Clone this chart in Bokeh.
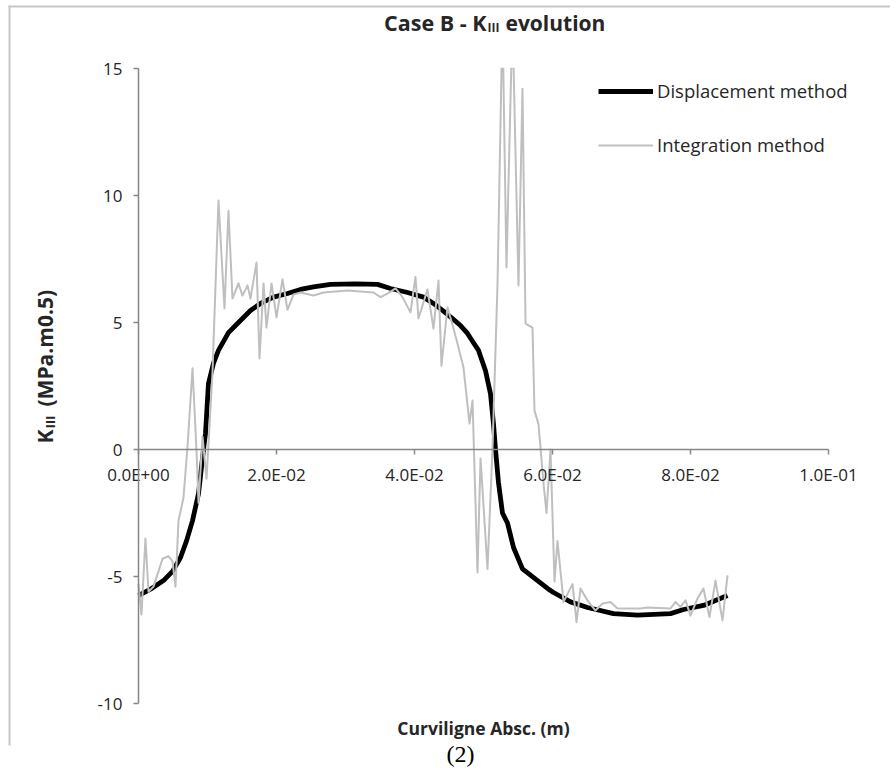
import math
from bokeh.plotting import figure
from bokeh.models import (Range1d, FixedTicker, CustomJSTickFormatter, Label, Legend,
                          LegendItem, PolyAnnotation, BoxAnnotation)
from bokeh.embed import file_html
from bokeh.resources import INLINE

# ---------------- data ----------------
x_disp = [0.0, 0.00174, 0.00362, 0.00493, 0.00609, 0.00696, 0.00783, 0.0087, 0.00942,
          0.00971, 0.01014, 0.01087, 0.01159, 0.01304, 0.01435, 0.01623, 0.01768, 0.01957,
          0.02159, 0.02348, 0.02536, 0.02783, 0.03145, 0.03464, 0.03652, 0.03899, 0.0413,
          0.04275, 0.0442, 0.04551, 0.04667, 0.04768, 0.04855, 0.04928, 0.05029, 0.05101,
          0.05145, 0.05174, 0.05217, 0.05275, 0.05348, 0.05435, 0.05565, 0.05783, 0.05928,
          0.06014, 0.06261, 0.06507, 0.06884, 0.07232, 0.0771, 0.07899, 0.08188, 0.08536]
k_disp = [-5.75, -5.5, -5.16, -4.8, -4.25, -3.6, -2.8, -1.73, 0.0,
          0.63, 2.6, 3.4, 3.9, 4.6, 4.96, 5.47, 5.75, 6.0,
          6.14, 6.3, 6.4, 6.5, 6.52, 6.5, 6.34, 6.18, 6.0,
          5.75, 5.45, 5.15, 4.88, 4.57, 4.2, 3.9, 3.1, 2.2,
          1.0, 0.0, -1.3, -2.5, -2.9, -3.86, -4.7, -5.16, -5.47,
          -5.63, -6.0, -6.22, -6.46, -6.52, -6.46, -6.3, -6.14, -5.75]

x_int = [0.0, 0.00043, 0.00101, 0.00145, 0.00217, 0.0029, 0.00348, 0.00435, 0.00493,
         0.00536, 0.0058, 0.00652, 0.0071, 0.00783, 0.0084, 0.0087, 0.00928, 0.00986,
         0.01072, 0.01159, 0.01246, 0.01304, 0.01362, 0.01449, 0.01507, 0.0158, 0.01623,
         0.0171, 0.01754, 0.01812, 0.01855, 0.01928, 0.02, 0.02087, 0.02159, 0.02246,
         0.02348, 0.02536, 0.02681, 0.03029, 0.03406, 0.03507, 0.03609, 0.03725, 0.03826,
         0.03942, 0.04014, 0.04058, 0.04188, 0.04275, 0.04348, 0.04391, 0.04478, 0.04551,
         0.04623, 0.0471, 0.04797, 0.04841, 0.04913, 0.04957, 0.05058, 0.0513, 0.05203,
         0.05275, 0.05333, 0.0542, 0.05507, 0.05565, 0.05609, 0.0571, 0.05739, 0.05797,
         0.0587, 0.05913, 0.05971, 0.06029, 0.06072, 0.0616, 0.0629, 0.06348, 0.06406,
         0.06507, 0.06623, 0.06725, 0.0684, 0.06942, 0.07275, 0.07377, 0.0771, 0.07783,
         0.07855, 0.07928, 0.08, 0.08101, 0.08188, 0.08275, 0.08362, 0.08464, 0.08536]
k_int = [-5.3, -6.5, -3.5, -5.6, -5.4, -4.8, -4.3, -4.2, -4.4,
         -5.4, -2.8, -1.9, 0.1, 3.2, 0.0, -2.1, 0.5, -1.15,
         3.0, 9.8, 5.55, 9.4, 5.94, 6.54, 6.06, 6.46, 5.94,
         7.36, 3.58, 6.54, 4.8, 6.54, 5.2, 6.7, 5.5, 6.1,
         6.18, 6.06, 6.18, 6.26, 6.18, 6.0, 6.14, 6.34, 6.0,
         5.4, 6.8, 5.16, 6.3, 4.76, 6.65, 3.3, 5.6, 4.9,
         4.17, 3.23, 1.02, 1.93, -4.84, -0.35, -4.7, 0.0, 6.5,
         17.0, 7.17, 17.0, 6.46, 14.2, 4.96, 4.8, 1.53, 1.0,
         -1.34, -2.5, 0.0, -5.2, -3.6, -6.0, -5.3, -6.8, -5.47,
         -5.94, -6.34, -6.06, -6.0, -6.26, -6.26, -6.22, -6.26, -6.0,
         -6.2, -5.94, -6.54, -5.87, -5.47, -6.6, -5.16, -6.73, -4.96]

x_ticks = [0.0, 0.02, 0.04, 0.06, 0.08, 0.10]
x_tick_labels = ["0.0E+00", "2.0E-02", "4.0E-02", "6.0E-02", "8.0E-02", "1.0E-01"]
y_ticks = [-10, -5, 0, 5, 10, 15]
y_tick_labels = ["-10", "-5", "0", "5", "10", "15"]

series_names = ["Displacement method", "Integration method"]

# ---------------- layout (pixels) ----------------
W, H = 890, 772
PX_X0, PX_X1 = 138, 828      # pixel columns of x = 0 and x = 0.1
PX_Y15, PX_YM10 = 68, 703    # pixel rows of y = 15 and y = -10
XMIN, XMAX = x_ticks[0], x_ticks[-1]
YMIN, YMAX = y_ticks[0], y_ticks[-1]
sx_per = (PX_X1 - PX_X0) / (XMAX - XMIN)
sy_per = (PX_YM10 - PX_Y15) / (YMAX - YMIN)
x_start = XMIN - PX_X0 / sx_per
x_end = XMAX + (W - PX_X1) / sx_per
y_end = YMAX + PX_Y15 / sy_per
y_start = YMIN - (H - PX_YM10) / sy_per

FONT = "Open Sans"
AXIS_GREY = "#868686"
TEXT = "#262626"

p = figure(width=W, height=H, output_backend="svg", toolbar_location=None,
           x_range=Range1d(x_start, x_end), y_range=Range1d(y_start, y_end),
           min_border=0)
p.title.visible = False
p.xgrid.visible = False
p.ygrid.visible = False
p.outline_line_color = None
p.background_fill_color = "white"
p.border_fill_color = "white"

fmt_code = """
let best = 0;
for (let i = 0; i < tvals.length; i++) {
  if (Math.abs(tvals[i] - tick) < Math.abs(tvals[best] - tick)) best = i;
}
return tlabels[best];
"""

for ax, tv, tl in ((p.xaxis[0], x_ticks, x_tick_labels), (p.yaxis[0], y_ticks, y_tick_labels)):
    ax.ticker = FixedTicker(ticks=tv)
    ax.formatter = CustomJSTickFormatter(args=dict(tvals=tv, tlabels=tl), code=fmt_code)
    ax.bounds = (tv[0], tv[-1])
    ax.axis_line_color = AXIS_GREY
    ax.axis_line_width = 1.5
    ax.major_tick_line_color = AXIS_GREY
    ax.major_tick_line_width = 1.5
    ax.major_tick_out = 5
    ax.major_tick_in = 0
    ax.minor_tick_line_color = None
    ax.major_label_text_font = FONT
    ax.major_label_text_font_size = "17px"
    ax.major_label_text_color = TEXT
    ax.axis_label = None

p.xaxis[0].fixed_location = 0
p.yaxis[0].fixed_location = 0
p.xaxis[0].major_label_standoff = 8
p.yaxis[0].major_label_standoff = 11

r1 = p.line(x_disp, k_disp, line_color="black", line_width=4.8, line_join="round")
r2 = p.line(x_int, k_int, line_color="#bfbfbf", line_width=2, line_join="round")

# mask: the plot area ends at y = 15 (values above it are cut off)
p.add_layout(BoxAnnotation(bottom=YMAX + 0.03, left=XMIN + 0.0002, fill_color="white",
                           fill_alpha=1, line_color=None, level="glyph"))

legend = Legend(items=[LegendItem(label=series_names[0], renderers=[r1]),
                       LegendItem(label=series_names[1], renderers=[r2])],
                location=(598, 615), glyph_width=55, glyph_height=20, label_height=20,
                label_standoff=4, spacing=29, padding=0, margin=0,
                border_line_color=None, background_fill_alpha=0,
                label_text_font=FONT, label_text_font_size="18.5px", label_text_color=TEXT)
p.add_layout(legend)

# screen coordinates: origin at bottom-left of the canvas, y up
def lab(text, sx, sy, size, bold=True, align="left", angle=0.0, font=FONT, color=TEXT):
    p.add_layout(Label(x=sx, y=sy, x_units="screen", y_units="screen", text=text,
                       text_font=font, text_font_size=size,
                       text_font_style="bold" if bold else "normal",
                       text_align=align, text_baseline="alphabetic",
                       angle=angle, text_color=color))

# title: Case B - K_III evolution
lab("Case B - K", 486, 750, "21.5px", align="right")
lab("III", 487, 745, "12px")
lab("evolution", 505, 750, "21px")

# y axis title: K_III (MPa.m0.5)
lab("K", 44, 329, "21px", angle=math.pi / 2)
lab("III", 49, 344, "13px", angle=math.pi / 2)
lab("(MPa.m0.5)", 44, 366, "21px", angle=math.pi / 2)

# x axis title
lab("Curviligne Absc. (m)", 483, 45, "17.5px", align="center")

# caption
lab("(2)", 460, 19, "24px", bold=False, align="center", font="Liberation Serif", color="black")

# chart-area border (top and left edges)
p.add_layout(PolyAnnotation(xs=[8, W, W, 8], ys=[765, 765, 767, 767],
                            xs_units="screen", ys_units="screen",
                            fill_color="#c8c8c8", fill_alpha=1, line_color=None))
p.add_layout(PolyAnnotation(xs=[8, 10, 10, 8], ys=[767, 767, 27, 27],
                            xs_units="screen", ys_units="screen",
                            fill_color="#c8c8c8", fill_alpha=1, line_color=None))

open("out.html", "w").write(file_html(p, INLINE))
